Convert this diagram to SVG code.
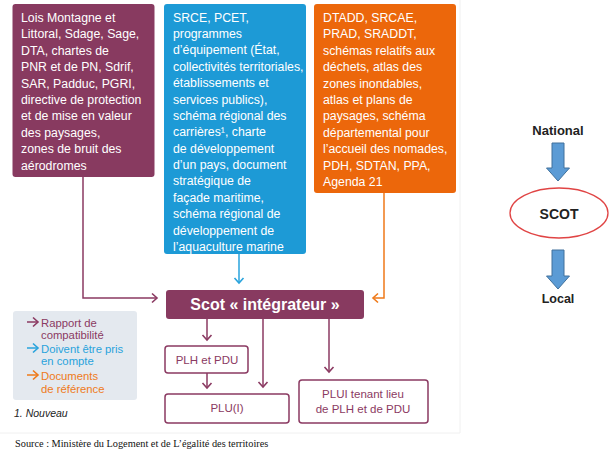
<svg xmlns="http://www.w3.org/2000/svg" width="609" height="452" viewBox="0 0 609 452">
<style>
.bt{font-family:"Liberation Sans",Arial,sans-serif;font-size:12.3px;fill:#fff}
.sm{font-family:"Liberation Sans",Arial,sans-serif;font-size:11.5px;fill:#8b3a62;text-anchor:middle}
.lg{font-family:"Liberation Sans",Arial,sans-serif;font-size:11.3px}
.cal{font-family:"Liberation Sans",Arial,sans-serif;font-weight:bold;fill:#222;text-anchor:middle}
.pl{fill:none;stroke:#8b3a62;stroke-width:1.5}
.bl{fill:none;stroke:#29a3dc;stroke-width:1.5}
.or{fill:none;stroke:#ef7a1a;stroke-width:1.5}
.blue{fill:#5b9bd5;stroke:#41719c;stroke-width:1}
</style>
<defs>
<marker id="mp" markerUnits="userSpaceOnUse" markerWidth="12" markerHeight="12" refX="6" refY="5" orient="auto" viewBox="0 0 12 10"><path d="M1,0.5 L6,5 L1,9.5" fill="none" stroke="#8b3a62" stroke-width="1.6"/></marker>
<marker id="mb" markerUnits="userSpaceOnUse" markerWidth="12" markerHeight="12" refX="6" refY="5" orient="auto" viewBox="0 0 12 10"><path d="M1,0.5 L6,5 L1,9.5" fill="none" stroke="#29a3dc" stroke-width="1.6"/></marker>
<marker id="mo" markerUnits="userSpaceOnUse" markerWidth="12" markerHeight="12" refX="6" refY="5" orient="auto" viewBox="0 0 12 10"><path d="M1,0.5 L6,5 L1,9.5" fill="none" stroke="#ef7a1a" stroke-width="1.6"/></marker>
</defs>
<rect width="609" height="452" fill="#fff"/>
<path d="M460,0 V433 H0" fill="none" stroke="#f0f0f0" stroke-width="1"/>

<g id="box-lois">
<rect x="12.5" y="4" width="142" height="173" rx="3" fill="#883a60"/>
<text class="bt" x="21" y="22"><tspan x="21">Lois Montagne et</tspan><tspan x="21" dy="16.4">Littoral, Sdage, Sage,</tspan><tspan x="21" dy="16.4">DTA, chartes de</tspan><tspan x="21" dy="16.4">PNR et de PN, Sdrif,</tspan><tspan x="21" dy="16.4">SAR, Padduc, PGRI,</tspan><tspan x="21" dy="16.4">directive de protection</tspan><tspan x="21" dy="16.4">et de mise en valeur</tspan><tspan x="21" dy="16.4">des paysages,</tspan><tspan x="21" dy="16.4">zones de bruit des</tspan><tspan x="21" dy="16.4">aérodromes</tspan></text>
</g>

<g id="box-srce">
<rect x="164" y="4" width="142" height="250" rx="3" fill="#1d9ad6"/>
<text class="bt" x="173" y="21.5"><tspan x="173">SRCE, PCET,</tspan><tspan x="173" dy="16.4">programmes</tspan><tspan x="173" dy="16.4">d’équipement (État,</tspan><tspan x="173" dy="16.4">collectivités territoriales,</tspan><tspan x="173" dy="16.4">établissements et</tspan><tspan x="173" dy="16.4">services publics),</tspan><tspan x="173" dy="16.4">schéma régional des</tspan><tspan x="173" dy="16.4">carrières¹, charte</tspan><tspan x="173" dy="16.4">de développement</tspan><tspan x="173" dy="16.4">d’un pays, document</tspan><tspan x="173" dy="16.4">stratégique de</tspan><tspan x="173" dy="16.4">façade maritime,</tspan><tspan x="173" dy="16.4">schéma régional de</tspan><tspan x="173" dy="16.4">développement de</tspan><tspan x="173" dy="16.4">l’aquaculture marine</tspan></text>
</g>

<g id="box-dtadd">
<rect x="314" y="4" width="142" height="189" rx="3" fill="#ec670b"/>
<text class="bt" x="323" y="22"><tspan x="323">DTADD, SRCAE,</tspan><tspan x="323" dy="16.4">PRAD, SRADDT,</tspan><tspan x="323" dy="16.4">schémas relatifs aux</tspan><tspan x="323" dy="16.4">déchets, atlas des</tspan><tspan x="323" dy="16.4">zones inondables,</tspan><tspan x="323" dy="16.4">atlas et plans de</tspan><tspan x="323" dy="16.4">paysages, schéma</tspan><tspan x="323" dy="16.4">départemental pour</tspan><tspan x="323" dy="16.4">l’accueil des nomades,</tspan><tspan x="323" dy="16.4">PDH, SDTAN, PPA,</tspan><tspan x="323" dy="16.4">Agenda 21</tspan></text>
</g>

<g id="scot">
<rect x="166" y="290" width="198" height="29" rx="3" fill="#883a60"/>
<text x="265" y="310" text-anchor="middle" font-family="'Liberation Sans',Arial,sans-serif" font-size="16" font-weight="bold" fill="#fff">Scot « intégrateur »</text>
</g>

<g id="plh">
<rect x="165" y="346" width="83" height="27" rx="3" fill="#fff" stroke="#8b3a62" stroke-width="1.5"/>
<text class="sm" x="207" y="364">PLH et PDU</text>
</g>

<g id="plu">
<rect x="165" y="394" width="124" height="29" rx="3" fill="#fff" stroke="#8b3a62" stroke-width="1.5"/>
<text class="sm" x="227" y="412">PLU(I)</text>
</g>

<g id="plui">
<rect x="299" y="380" width="129" height="43" rx="3" fill="#fff" stroke="#8b3a62" stroke-width="1.5"/>
<text class="sm" x="363" y="398">PLUI tenant lieu</text>
<text class="sm" x="363" y="413">de PLH et de PDU</text>
</g>

<g id="connectors">
<path class="pl" d="M83,177 V298 H157" marker-end="url(#mp)"/>
<path class="bl" d="M239,254 V283" marker-end="url(#mb)"/>
<path class="or" d="M384,193 V298 H373" marker-end="url(#mo)"/>
<path class="pl" d="M207,319 V340" marker-end="url(#mp)"/>
<path class="pl" d="M263,319 V387" marker-end="url(#mp)"/>
<path class="pl" d="M329,319 V372" marker-end="url(#mp)"/>
<path class="pl" d="M207,373 V388" marker-end="url(#mp)"/>
</g>

<g id="legend">
<rect x="13" y="311" width="124" height="89" rx="3" fill="#e4e9ef"/>
<path class="pl" d="M27,322 H38" marker-end="url(#mp)"/>
<path class="bl" d="M27,348 H38" marker-end="url(#mb)"/>
<path class="or" d="M27,375 H38" marker-end="url(#mo)"/>
<text class="lg" fill="#8b3a62" x="41" y="326.5">Rapport de</text>
<text class="lg" fill="#8b3a62" x="41" y="338.5">compatibilité</text>
<text class="lg" fill="#29a3dc" x="41" y="352.5">Doivent être pris</text>
<text class="lg" fill="#29a3dc" x="41" y="365">en compte</text>
<text class="lg" fill="#ef7a1a" x="41" y="379.5">Documents</text>
<text class="lg" fill="#ef7a1a" x="41" y="392.5">de référence</text>
</g>
<text x="14" y="417" font-family="'Liberation Sans',Arial,sans-serif" font-size="10.5" font-style="italic" fill="#222">1. Nouveau</text>
<text x="15" y="447" font-family="'Liberation Serif','Times New Roman',serif" font-size="10.3" fill="#111">Source : Ministère du Logement et de L’égalité des territoires</text>

<g id="national">
<text class="cal" x="558" y="135" font-size="13">National</text>
</g>
<g id="arrow-down-1">
<path class="blue" d="M552,143 H564 V168 H569.5 L558,181 L546.5,168 H552 Z"/>
</g>
<g id="scot-ellipse">
<ellipse cx="559" cy="213" rx="49" ry="25" fill="#fff" stroke="#e04444" stroke-width="1.3"/>
<text class="cal" x="559" y="218.5" font-size="14">SCOT</text>
</g>
<g id="arrow-down-2">
<path class="blue" d="M552,250 H564 V276 H569.5 L558,289 L546.5,276 H552 Z"/>
</g>
<g id="local">
<text class="cal" x="558" y="303" font-size="12.5">Local</text>
</g>
</svg>
